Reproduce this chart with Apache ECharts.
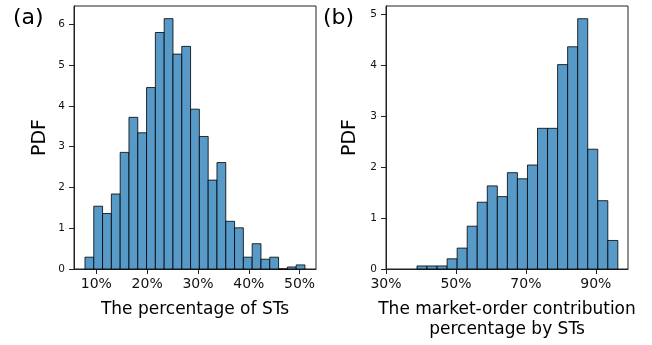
<!DOCTYPE html>
<html>
<head>
<meta charset="utf-8">
<script src="https://cdn.jsdelivr.net/npm/echarts@6/dist/echarts.min.js"></script>
<style>html,body{margin:0;padding:0;background:#fff}#c{width:652px;height:345px}</style>
</head>
<body>
<div id="c"></div>
<script>
// (a) The percentage of STs
const binStartA = 7.76, binWidthA = 1.732;
const pdfA = [0.29, 1.54, 1.36, 1.84, 2.86, 3.72, 3.34, 4.45, 5.80, 6.14, 5.27, 5.46, 3.92, 3.25, 2.18, 2.61, 1.17, 1.01, 0.29, 0.62, 0.24, 0.29, 0, 0.05, 0.10];
const xTicksA = [10, 20, 30, 40, 50];
const yTicksA = [0, 1, 2, 3, 4, 5, 6];
const xRangeA = [5.6, 53.23], yMaxA = 6.45;

// (b) The market-order contribution percentage by STs
const binStartB = 38.86, binWidthB = 2.872;
const pdfB = [0.06, 0.06, 0.06, 0.20, 0.41, 0.84, 1.31, 1.63, 1.42, 1.89, 1.77, 2.04, 2.76, 2.76, 4.01, 4.36, 4.91, 2.35, 1.34, 0.56];
const xTicksB = [30, 50, 70, 90];
const yTicksB = [0, 1, 2, 3, 4, 5];
const xRangeB = [30, 99.2], yMaxB = 5.16;

function toBins(start, w, vals) {
  return vals.map((v, i) => [start + i * w, start + (i + 1) * w, v]);
}

const FONT = 'DejaVu Sans';
const INK = '#222';

function renderBar(params, api) {
  const p0 = api.coord([api.value(0), api.value(2)]);
  const p1 = api.coord([api.value(1), 0]);
  return {
    type: 'rect',
    shape: { x: p0[0], y: p0[1], width: p1[0] - p0[0], height: p1[1] - p0[1] },
    style: { fill: '#5799c7', stroke: 'rgba(0,0,0,0.8)', lineWidth: 1 }
  };
}

function xAxis(idx, range, ticks, name) {
  return {
    type: 'value', gridIndex: idx, min: range[0], max: range[1],
    name: name, nameLocation: 'middle', nameGap: 31,
    nameTextStyle: { fontFamily: FONT, fontSize: 17, color: '#000', lineHeight: 19.5 },
    axisLine: { show: true, lineStyle: { color: INK, width: 1 } },
    axisTick: { show: true, length: 5, lineStyle: { color: INK }, customValues: ticks },
    axisLabel: { margin: 8, fontFamily: FONT, fontSize: 14, color: '#111', customValues: ticks, formatter: v => v + '%' },
    splitLine: { show: false }
  };
}

function yAxis(idx, max, ticks, gap) {
  return {
    type: 'value', gridIndex: idx, min: 0, max: max,
    name: 'PDF', nameLocation: 'middle', nameGap: gap, nameRotate: 90,
    nameTextStyle: { fontFamily: FONT, fontSize: 19, color: '#000' },
    axisLine: { show: true, lineStyle: { color: INK, width: 1 } },
    axisTick: { show: true, length: 5, lineStyle: { color: INK }, customValues: ticks },
    axisLabel: { margin: 9, fontFamily: FONT, fontSize: 10.5, color: '#111', customValues: ticks },
    splitLine: { show: false }
  };
}

const chart = echarts.init(document.getElementById('c'), null, { renderer: 'canvas' });
chart.setOption({
  animation: false,
  backgroundColor: '#fff',
  title: [
    { text: '(a)', left: 13, top: 7, padding: 0, textStyle: { fontFamily: FONT, fontSize: 22, fontWeight: 'normal', color: '#000' } },
    { text: '(b)', left: 323, top: 7, padding: 0, textStyle: { fontFamily: FONT, fontSize: 22, fontWeight: 'normal', color: '#000' } }
  ],
  grid: [
    { left: 74, top: 6, width: 242, height: 263, show: true, borderColor: INK, borderWidth: 1, backgroundColor: 'transparent' },
    { left: 386, top: 6, width: 242, height: 263, show: true, borderColor: INK, borderWidth: 1, backgroundColor: 'transparent' }
  ],
  xAxis: [
    xAxis(0, xRangeA, xTicksA, 'The percentage of STs'),
    xAxis(1, xRangeB, xTicksB, 'The market-order contribution\npercentage by STs')
  ],
  yAxis: [
    yAxis(0, yMaxA, yTicksA, 24),
    yAxis(1, yMaxB, yTicksB, 26)
  ],
  series: [
    { type: 'custom', xAxisIndex: 0, yAxisIndex: 0, renderItem: renderBar, encode: { x: [0, 1], y: 2 }, data: toBins(binStartA, binWidthA, pdfA) },
    { type: 'custom', xAxisIndex: 1, yAxisIndex: 1, renderItem: renderBar, encode: { x: [0, 1], y: 2 }, data: toBins(binStartB, binWidthB, pdfB) }
  ]
});
</script>
</body>
</html>
